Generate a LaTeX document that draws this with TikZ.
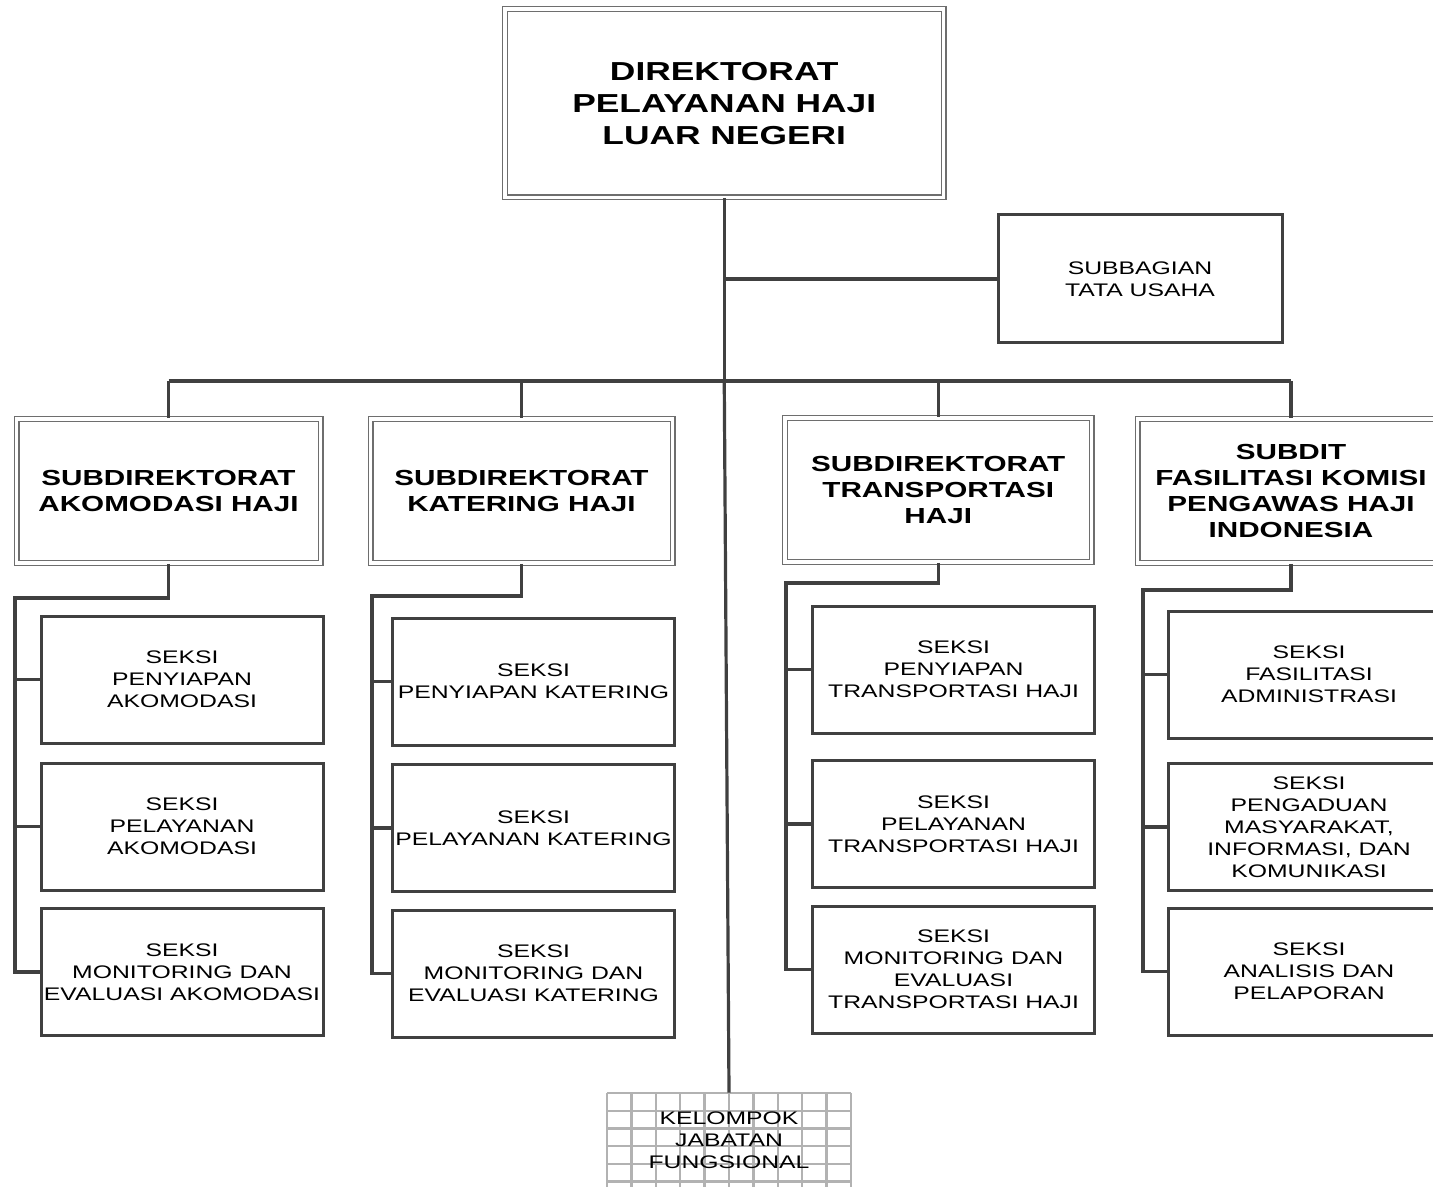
\documentclass[tikz,border=0pt]{standalone}
\usepackage{fontspec}
\setmainfont{Liberation Sans}[FakeStretch=1.36]
\usetikzlibrary{calc}
\definecolor{ln}{HTML}{404040}
\definecolor{dbl}{HTML}{6E6E6E}
\tikzset{
  dbox/.style={draw=dbl, line width=0.55pt, double=white, double distance=1.9pt, inner sep=0pt, align=center},
  titlefont/.style={font=\fontsize{13}{16}\selectfont\bfseries},
  subfont/.style={font=\fontsize{10.9}{13}\selectfont\bfseries},
  seksi/.style={draw=ln, line width=1.5pt, inner sep=0pt, align=center, font=\fontsize{9.1}{11}\selectfont},
  plain/.style={inner sep=0pt, align=center, font=\fontsize{9.1}{11}\selectfont},
  conn/.style={draw=ln, line width=1.6pt},
  gridln/.style={draw=gray!60, line width=1.2pt},
  sw/.style={minimum width=141pt},
  sh/.style={minimum height=63.5pt},
  dh/.style={minimum height=72.25pt},
}
\begin{document}
\begin{tikzpicture}[x=0.5pt,y=-0.5pt]
\useasboundingbox (0,0) rectangle (1433,1187);
\clip (0,0) rectangle (1433,1187);

% top
\node[dbox, titlefont, minimum width=219.25pt, minimum height=94.25pt] (top) at (724.25,103.25) {DIREKTORAT\\PELAYANAN HAJI\\LUAR NEGERI};
\node[seksi, minimum width=142pt, minimum height=64pt] (sbg) at (1140,279) {SUBBAGIAN\\TATA USAHA};

% subdirectorates
\node[dbox, subfont, dh, minimum width=152pt] (sd1) at (168.5,491) {SUBDIREKTORAT\\AKOMODASI HAJI};
\node[dbox, subfont, dh, minimum width=151pt] (sd2) at (521.5,491) {SUBDIREKTORAT\\KATERING HAJI};
\node[dbox, subfont, dh, minimum width=153.25pt] (sd3) at (938.25,490) {SUBDIREKTORAT\\TRANSPORTASI\\HAJI};
\node[dbox, subfont, dh, minimum width=153.5pt] (sd4) at (1291,491) {SUBDIT\\FASILITASI KOMISI\\PENGAWAS HAJI\\INDONESIA};

% column 1
\node[seksi, sw, sh] (a1) at (182,679.5) {SEKSI\\PENYIAPAN\\AKOMODASI};
\node[seksi, sw, sh] (a2) at (182,826.5) {SEKSI\\PELAYANAN\\AKOMODASI};
\node[seksi, sw, sh] (a3) at (182,972) {SEKSI\\MONITORING DAN\\EVALUASI AKOMODASI};
% column 2
\node[seksi, sw, sh] (b1) at (533.5,681.5) {SEKSI\\PENYIAPAN KATERING};
\node[seksi, sw, sh] (b2) at (533.5,828) {SEKSI\\PELAYANAN KATERING};
\node[seksi, sw, sh] (b3) at (533.5,973.5) {SEKSI\\MONITORING DAN\\EVALUASI KATERING};
% column 3
\node[seksi, sw, sh] (c1) at (953.5,669.5) {SEKSI\\PENYIAPAN\\TRANSPORTASI HAJI};
\node[seksi, sw, sh] (c2) at (953.5,824) {SEKSI\\PELAYANAN\\TRANSPORTASI HAJI};
\node[seksi, sw, sh] (c3) at (953.5,969.5) {SEKSI\\MONITORING DAN\\EVALUASI\\TRANSPORTASI HAJI};
% column 4
\node[seksi, sw, sh] (d1) at (1309,674.5) {SEKSI\\FASILITASI\\ADMINISTRASI};
\node[seksi, sw, sh] (d2) at (1309,827) {SEKSI\\PENGADUAN\\MASYARAKAT,\\INFORMASI, DAN\\KOMUNIKASI};
\node[seksi, sw, sh] (d3) at (1309,971.5) {SEKSI\\ANALISIS DAN\\PELAPORAN};

% fungsional grid box
\foreach \i in {0,...,10} \draw[gridln] (607+24.4*\i,1093) -- (607+24.4*\i,1195);
\foreach \j in {0,...,5} \draw[gridln] (607,1093+17.7*\j) -- (851,1093+17.7*\j);
\node[plain, minimum width=122pt, minimum height=47pt] (fung) at (729,1140) {KELOMPOK\\JABATAN\\FUNGSIONAL};

% connectors
\coordinate (j0) at (724.25,381);
\draw[conn] (top.south) -- (j0);
\draw[conn] (j0) -- (fung.north);
\draw[conn] (top.south |- sbg.west) -- (sbg.west);
\draw[conn] (sd1.north |- j0) -- (sd4.north |- j0);
\foreach \n in {sd1,sd2,sd3,sd4} \draw[conn] (\n.north |- j0) -- (\n.north);

\coordinate (e1) at (15,598);
\coordinate (e2) at (372,596);
\coordinate (e3) at (786,583);
\coordinate (e4) at (1143,590);
\draw[conn] (sd1.south) |- (e1) |- (a3.west);
\draw[conn] (sd2.south) |- (e2) |- (b3.west);
\draw[conn] (sd3.south) |- (e3) |- (c3.west);
\draw[conn] (sd4.south) |- (e4) |- (d3.west);
\foreach \e/\p/\q in {e1/a1/a2, e2/b1/b2, e3/c1/c2, e4/d1/d2} {
  \draw[conn] (\e |- \p.west) -- (\p.west);
  \draw[conn] (\e |- \q.west) -- (\q.west);
}
\end{tikzpicture}
\end{document}
